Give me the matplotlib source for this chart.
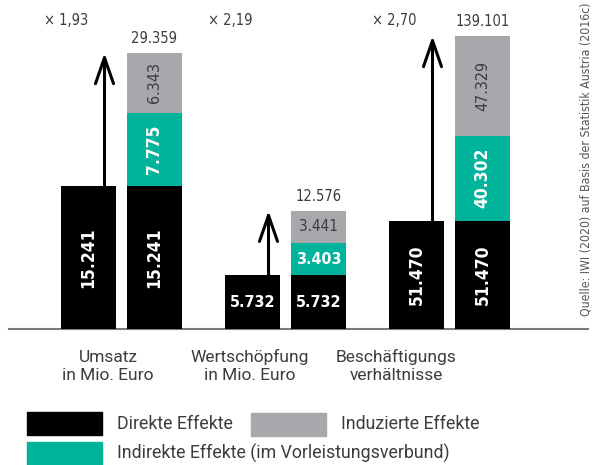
import matplotlib
matplotlib.use("Agg")
import matplotlib.pyplot as plt
from matplotlib.patches import Rectangle

categories = ["Umsatz\nin Mio. Euro", "Wertschöpfung\nin Mio. Euro", "Beschäftigungs\nverhältnisse"]
direct = [15241, 5732, 51470]
indirect = [7775, 3403, 40302]
induced = [6343, 3441, 47329]
totals = [29359, 12576, 139101]
multipliers = ["× 1,93", "× 2,19", "× 2,70"]
legend_labels = ["Direkte Effekte", "Induzierte Effekte", "Indirekte Effekte (im Vorleistungsverbund)"]
source = "Quelle: IWI (2020) auf Basis der Statistik Austria (2016c)"

BLACK = "#000000"
TEAL = "#00b39b"
GREY = "#a7a8ab"
TEXT = "#3c3c3c"
COND = dict(family="DejaVu Sans", stretch="condensed")
PLAIN = dict(family=["Roboto", "DejaVu Sans"])

W, H = 592, 465
rotations = [90, 0, 90]


def fmt(v):
    return f"{v:,}".replace(",", ".")


fig = plt.figure(figsize=(W / 100, H / 100), dpi=100)
ax = fig.add_axes([0, 136 / H, 1, 329 / H])
ax2 = ax.twinx()  # employment on its own scale
ax.set_xlim(-121.5 / 164, (W - 121.5) / 164)
ax.set_ylim(0, 35000)
ax2.set_ylim(0, 156200)
for a in (ax, ax2):
    a.axis("off")

bw = 55 / 164
off = 33 / 164

ax.axhline(0, xmin=9 / W, xmax=588 / W, color="#7a7a7a", lw=1.5, clip_on=False, zorder=0)

for i in range(3):
    a = ax if i < 2 else ax2
    rot = rotations[i]
    bold_size = 12.5 if rot else 11.5
    reg_size = 11.5 if rot else 11
    xl, xr = i - off, i + off
    a.bar(xl, direct[i], bw, color=BLACK)
    a.bar(xr, direct[i], bw, color=BLACK)
    a.bar(xr, indirect[i], bw, bottom=direct[i], color=TEAL)
    a.bar(xr, induced[i], bw, bottom=direct[i] + indirect[i], color=GREY)

    for x in (xl, xr):
        a.text(x, direct[i] / 2, fmt(direct[i]), rotation=rot, ha="center", va="center",
               color="white", fontweight="bold", fontsize=bold_size, **COND)
    a.text(xr, direct[i] + indirect[i] / 2, fmt(indirect[i]), rotation=rot, ha="center",
           va="center", color="white", fontweight="bold", fontsize=bold_size, **COND)
    a.text(xr, direct[i] + indirect[i] + induced[i] / 2, fmt(induced[i]), rotation=rot,
           ha="center", va="center", color=TEXT, fontsize=reg_size, **COND)

    a.annotate(fmt(totals[i]), xy=(xr, totals[i]), xytext=(0, 5), textcoords="offset points",
               ha="center", va="bottom", color=TEXT, fontsize=10.5, **COND)

    xa = xl + 16 / 164
    a.annotate("", xy=(xa, totals[i]), xytext=(xa, direct[i]),
               arrowprops=dict(arrowstyle="->,head_length=1.87,head_width=0.65",
                               mutation_scale=10, lw=2.2, color=BLACK,
                               shrinkA=0, shrinkB=0))

    a.text(xl - 22 / 164, 0.939, multipliers[i], transform=a.get_xaxis_transform(),
           ha="center", va="center", color=TEXT, fontsize=10.5, **COND)

label_px = [108, 250, 396]
for x, lab in zip(label_px, categories):
    fig.text(x / W, 1 - 366 / H, lab, ha="center", va="center", color=TEXT,
             fontsize=12.5, linespacing=1.25, **PLAIN)

# legend drawn by hand
boxes = [(27, 412, BLACK), (251, 413, GREY), (27, 442, TEAL)]
text_pos = [(117, 424), (341, 424), (117, 453)]
for (bx, by, c), (tx, ty), lab in zip(boxes, text_pos, legend_labels):
    fig.add_artist(Rectangle((bx / W, 1 - (by + 23) / H), 75 / W, 23 / H,
                             transform=fig.transFigure, color=c))
    fig.text(tx / W, 1 - ty / H, lab, ha="left", va="center", color=TEXT,
             fontsize=12.8, **PLAIN)

fig.text(586 / W, 1 - 159 / H, source, rotation=90, ha="center", va="center",
         color="#555555", fontsize=8.8, **COND)

fig.savefig("out.png", dpi=100)
